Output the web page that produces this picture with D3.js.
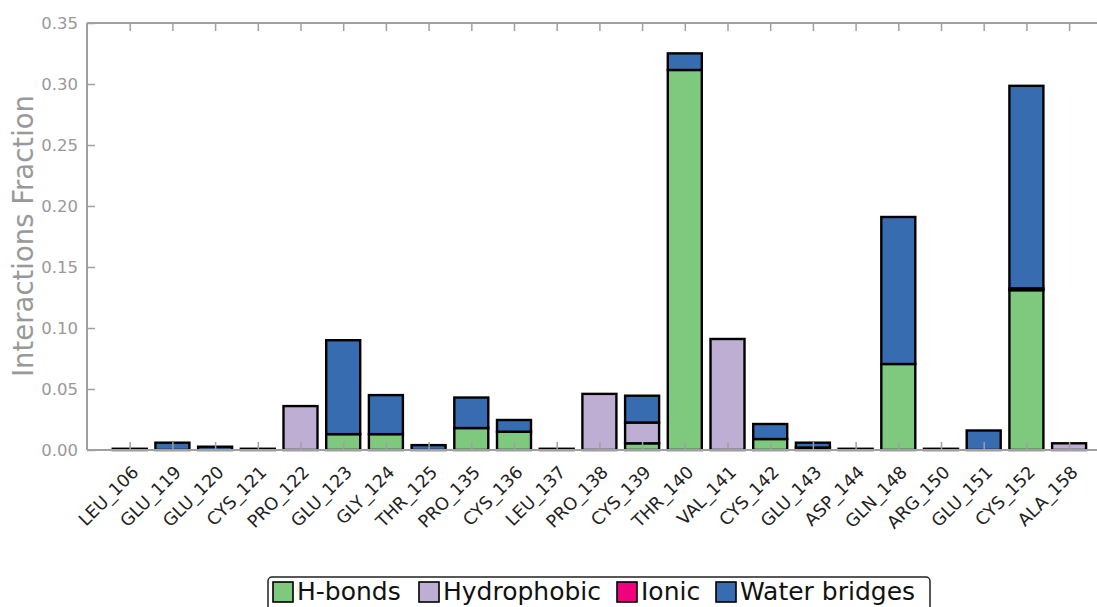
<!DOCTYPE html>
<html>
<head>
<meta charset="utf-8">
<script src="https://cdn.jsdelivr.net/npm/d3@7"></script>
<style>
  html, body { margin: 0; padding: 0; background: #fff; }
  svg { display: block; font-family: "DejaVu Sans", sans-serif; }
</style>
</head>
<body>
<svg id="chart" width="1097" height="607"></svg>
<script>
// Protein residues contacted by the ligand
const residues = ["LEU_106","GLU_119","GLU_120","CYS_121","PRO_122","GLU_123","GLY_124","THR_125",
  "PRO_135","CYS_136","LEU_137","PRO_138","CYS_139","THR_140","VAL_141","CYS_142","GLU_143",
  "ASP_144","GLN_148","ARG_150","GLU_151","CYS_152","ALA_158"];

// Interaction fractions per residue, by interaction type (stacked in this order)
const hbonds      = [0, 0, 0, 0, 0, 0.013, 0.013, 0, 0.018, 0.015, 0, 0, 0.0055, 0.3115, 0, 0.009, 0.002, 0, 0.0705, 0, 0, 0.131, 0];
const hydrophobic = [0, 0, 0, 0.001, 0.036, 0, 0, 0, 0, 0, 0.001, 0.046, 0.017, 0, 0.091, 0, 0, 0.001, 0, 0.001, 0, 0.0015, 0.0055];
const ionic       = [0, 0, 0, 0, 0, 0, 0, 0, 0, 0, 0, 0, 0, 0, 0, 0, 0, 0, 0, 0, 0, 0, 0];
const water       = [0.001, 0.006, 0.0027, 0, 0, 0.077, 0.032, 0.004, 0.025, 0.0096, 0, 0, 0.022, 0.0136, 0, 0.0123, 0.004, 0, 0.1205, 0, 0.016, 0.166, 0];

const seriesNames = ["H-bonds", "Hydrophobic", "Ionic", "Water bridges"];
const seriesColors = ["#7fc97f", "#beaed4", "#f0027f", "#386cb0"];
const yTicks = [0, 0.05, 0.10, 0.15, 0.20, 0.25, 0.30, 0.35];

const svg = d3.select("#chart");
const plotLeft = 87, plotTop = 23, plotBottom = 450;
const step = 42.7;

const x = d3.scaleLinear().domain([-1, residues.length]).range([plotLeft, plotLeft + step * (residues.length + 1)]);
const y = d3.scaleLinear().domain([0, 0.35]).range([plotBottom, plotTop]);
const barW = 34;

const rows = residues.map((r, i) => ({ i, r, "H-bonds": hbonds[i], "Hydrophobic": hydrophobic[i], "Ionic": ionic[i], "Water bridges": water[i] }));
const stacked = d3.stack().keys(seriesNames)(rows);

const axisColor = "#a0a0a0";
const plotRight = x(residues.length);

// Bars
const g = svg.append("g");
stacked.forEach((layer, k) => {
  g.selectAll(null).data(layer.filter(d => d[1] - d[0] > 0)).enter().append("rect")
    .attr("x", d => x(d.data.i) - barW / 2)
    .attr("width", barW)
    .attr("y", d => y(d[1]))
    .attr("height", d => y(d[0]) - y(d[1]))
    .attr("fill", seriesColors[k])
    .attr("stroke", "#000")
    .attr("stroke-width", 2.4);
});

// Spines
svg.append("line").attr("x1", plotLeft).attr("x2", plotLeft).attr("y1", plotTop).attr("y2", plotBottom)
  .attr("stroke", axisColor).attr("stroke-width", 2);
svg.append("line").attr("x1", plotLeft).attr("x2", plotRight).attr("y1", plotTop).attr("y2", plotTop)
  .attr("stroke", axisColor).attr("stroke-width", 2);
svg.append("line").attr("x1", plotLeft).attr("x2", plotRight).attr("y1", plotBottom).attr("y2", plotBottom)
  .attr("stroke", axisColor).attr("stroke-width", 2);

// Y axis (ticks point inward)
const yAxis = svg.append("g").attr("transform", `translate(${plotLeft},0)`)
  .call(d3.axisLeft(y).tickValues(yTicks).tickFormat(d3.format(".2f")).tickSize(-8).tickPadding(9));
yAxis.select(".domain").remove();
yAxis.selectAll(".tick line").attr("stroke", axisColor).attr("stroke-width", 1.5);
yAxis.selectAll(".tick text").attr("fill", "#999").style("font-size", "16.5px")
  .style("font-family", "'DejaVu Sans', sans-serif");

// Bottom X axis with rotated residue labels
const xAxis = svg.append("g").attr("transform", `translate(0,${plotBottom})`)
  .call(d3.axisBottom(x).tickValues(d3.range(residues.length)).tickFormat(i => residues[i]).tickSize(-8).tickPadding(0));
xAxis.select(".domain").remove();
xAxis.selectAll(".tick line").attr("stroke", axisColor).attr("stroke-width", 1.5);
xAxis.selectAll(".tick text")
  .attr("fill", "#222")
  .style("font-size", "17.5px")
  .style("font-family", "'DejaVu Sans', sans-serif")
  .attr("text-anchor", "end")
  .attr("y", 0)
  .attr("dy", "0.35em")
  .attr("transform", "translate(5,19) rotate(-45)");

// Top ticks mirror the bottom ones
const xTop = svg.append("g").attr("transform", `translate(0,${plotTop})`)
  .call(d3.axisTop(x).tickValues(d3.range(residues.length)).tickFormat("").tickSize(-8));
xTop.select(".domain").remove();
xTop.selectAll(".tick line").attr("stroke", axisColor).attr("stroke-width", 1.5);

// Y axis title
svg.append("text")
  .attr("transform", `translate(33,236) rotate(-90)`)
  .attr("text-anchor", "middle")
  .attr("fill", "#999")
  .style("font-size", "27.5px")
  .text("Interactions Fraction");

// Legend
const legend = svg.append("g");
legend.append("rect").attr("x", 268).attr("y", 577).attr("width", 662).attr("height", 40)
  .attr("rx", 4).attr("fill", "#fff").attr("stroke", "#222").attr("stroke-width", 1.5);
const legendX = [273, 419, 617, 716];
seriesNames.forEach((name, k) => {
  legend.append("rect").attr("x", legendX[k]).attr("y", 582).attr("width", 20).attr("height", 20)
    .attr("fill", seriesColors[k]).attr("stroke", "#000").attr("stroke-width", 1.6);
  legend.append("text").attr("x", legendX[k] + 24).attr("y", 600)
    .attr("fill", "#111").style("font-size", "25px").text(name);
});
</script>
</body>
</html>
